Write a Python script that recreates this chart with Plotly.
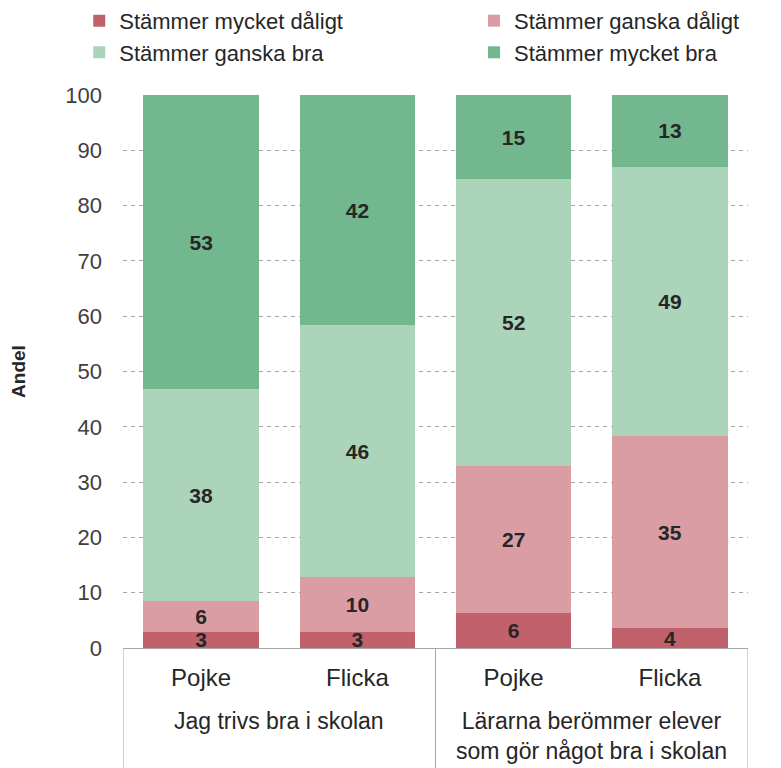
import plotly.graph_objects as go

fragor = ["Jag trivs bra i skolan",
          "Lärarna berömmer elever<br>som gör något bra i skolan"]
fraga_per_stapel = [0, 0, 1, 1]
kon = ["Pojke", "Flicka", "Pojke", "Flicka"]

mycket_daligt = [2.9, 2.9, 6.3, 3.6]
ganska_daligt = [5.6, 9.9, 26.6, 34.7]
ganska_bra = [38.3, 45.6, 51.9, 48.7]
mycket_bra = [53.2, 41.6, 15.2, 13.0]

# namn, värden, färg, legendkolumn
serier = [
    ("Stämmer mycket dåligt", mycket_daligt, "#C0616B", "legend"),
    ("Stämmer ganska dåligt", ganska_daligt, "#DA9DA3", "legend2"),
    ("Stämmer ganska bra", ganska_bra, "#ACD4BA", "legend"),
    ("Stämmer mycket bra", mycket_bra, "#73B78E", "legend2"),
]

pos = list(range(len(kon)))

fig = go.Figure()
for namn, varden, farg, leg in serier:
    fig.add_trace(go.Bar(
        x=pos,
        y=varden,
        name=namn,
        legend=leg,
        legendgroup=namn,
        marker=dict(color=farg, line=dict(width=0)),
        width=0.74,
        texttemplate="%{y:.0f}",
        textposition="inside",
        insidetextanchor="middle",
        textangle=0,
        textfont=dict(family="Liberation Sans", size=21, color="#262626", weight="bold"),
    ))

leg_style = dict(
    orientation="v", traceorder="normal", tracegroupgap=10,
    y=1.172, xanchor="left", yanchor="top",
    font=dict(size=22, color="#262626"),
    bgcolor="rgba(0,0,0,0)",
)

# sidan får 8 px marginal i webbläsaren, därför 773x760
fig.update_layout(
    barmode="stack",
    width=773, height=760,
    margin=dict(l=115, r=33, t=87, b=120, autoexpand=False),
    plot_bgcolor="white",
    paper_bgcolor="white",
    font=dict(family="Liberation Sans", size=22, color="#262626"),
    uniformtext=dict(minsize=21, mode="show"),
    legend=dict(x=-0.07, **leg_style),
    legend2=dict(x=0.5616, **leg_style),
    showlegend=True,
)
fig.update_yaxes(
    range=[0, 100], dtick=10, automargin=False,
    showgrid=True, gridcolor="#A6A6A6", griddash="4px,4px", gridwidth=1,
    zeroline=False, showline=False,
    tickfont=dict(size=22, color="#404040"),
    ticks="", ticklabelstandoff=20,
    title=dict(text="<b>Andel</b>", font=dict(size=19, color="#262626"), standoff=36),
)
fig.update_xaxes(
    range=[-0.5, len(kon) - 0.5], automargin=False,
    tickvals=pos, ticktext=kon,
    showline=True, linecolor="#A6A6A6", linewidth=1,
    showgrid=False, zeroline=False,
    tickfont=dict(size=24, color="#262626"),
    ticks="", ticklabelstandoff=8,
)

# grupprubriker under kön
for i, fraga in enumerate(fragor):
    idx = [p for p, f in zip(pos, fraga_per_stapel) if f == i]
    fig.add_annotation(
        x=sum(idx) / len(idx), xref="x", y=-0.105, yref="paper",
        text=fraga, showarrow=False, yanchor="top",
        font=dict(size=23, color="#262626"),
    )

# rutans lodräta linjer
kanter = [-0.5] + [p + 0.5 for p, f_next, f in zip(pos, fraga_per_stapel[1:], fraga_per_stapel) if f != f_next] + [len(kon) - 0.5]
for k in kanter:
    fig.add_shape(type="line", xref="x", yref="paper", x0=k, x1=k, y0=0, y1=-0.22,
                  line=dict(color="#A6A6A6", width=1))

fig.write_html("out.html")
